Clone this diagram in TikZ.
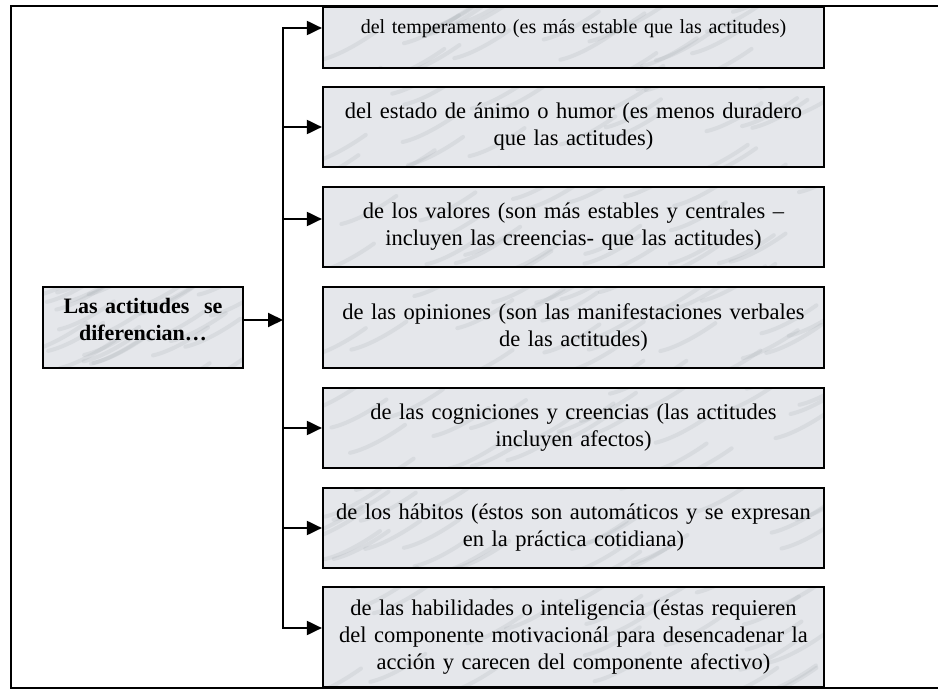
\documentclass[tikz,border=0pt]{standalone}
\usepackage{fontspec}
\setmainfont{Liberation Serif}
\usetikzlibrary{arrows.meta,calc}

\definecolor{marmol}{RGB}{229,231,235}
\definecolor{veta}{RGB}{160,165,172}

\tikzset{
  % relleno tipo marmol: fondo claro con vetas diagonales
  marmolado/.style={fill=marmol, path picture={
      \foreach \k in {1,...,26}{
        \pgfmathsetmacro{\px}{rnd}
        \pgfmathsetmacro{\py}{rnd}
        \draw[veta, opacity=0.18, line width=4pt, line cap=round]
          ($(path picture bounding box.north west)!\px!(path picture bounding box.north east)+(-20,\py*110)$)
          .. controls +(18,-4) and +(-14,10) .. +(55,-28);
      }}},
  caja/.style={draw=black, line width=2.2pt, marmolado, minimum width=501pt,
    text width=480pt, align=center, inner sep=0pt,
    font=\fontsize{22.5}{27}\selectfont},
  linea/.style={line width=2pt},
  flecha/.style={line width=2pt, -{Triangle[length=15pt,width=14pt]}}
}

\begin{document}
\begin{tikzpicture}[x=1pt,y=-1pt]
  \pgfmathsetseed{11}
  \useasboundingbox (0,0) rectangle (938,690);

  % Marco exterior
  \draw[line width=1.6pt] (11,6) rectangle (941,688);

  % Caja de la izquierda
  \node[caja, minimum width=200pt, text width=190pt, minimum height=81pt,
    text depth=44pt, font=\fontsize{22}{27}\selectfont\bfseries]
    (actitudes) at (143,327.5) {Las actitudes~ se\\ diferencian…};

  % Cajas de la derecha
  \node[caja, minimum height=61pt, text depth=21pt, font=\fontsize{20}{24}\selectfont]
    (temperamento) at (573.5,37.5) {del temperamento (es más estable que las actitudes)};
  \node[caja, minimum height=80pt] (animo) at (573.5,127)
    {del estado de ánimo o humor (es menos duradero\\ que las actitudes)};
  \node[caja, minimum height=80pt] (valores) at (573.5,227)
    {de los valores (son más estables y centrales –\\ incluyen las creencias- que las actitudes)};
  \node[caja, minimum height=81pt] (opiniones) at (573.5,327.5)
    {de las opiniones (son las manifestaciones verbales\\ de las actitudes)};
  \node[caja, minimum height=80pt] (cogniciones) at (573.5,428)
    {de las cogniciones y creencias (las actitudes\\ incluyen afectos)};
  \node[caja, minimum height=80pt] (habitos) at (573.5,528)
    {de los hábitos (éstos son automáticos y se expresan\\ en la práctica cotidiana)};
  \node[caja, minimum height=100pt] (habilidades) at (573.5,637)
    {de las habilidades o inteligencia (éstas requieren\\ del componente motivacionál para desencadenar la\\ acción y carecen del componente afectivo)};

  % Tronco y flechas
  \coordinate (tronco) at (283,0);
  \coordinate (p0) at ([yshift=7.5pt]actitudes.east);
  \coordinate (p1) at ([yshift=9.5pt]temperamento.west);
  \coordinate (p3) at ([yshift=8pt]valores.west);
  \coordinate (p7) at ([yshift=9pt]habilidades.west);

  \draw[flecha] (p0) -- (p0 -| tronco);
  \draw[flecha] (p0 -| tronco) |- (p1);
  \draw[flecha] (p0 -| tronco) |- (p7);
  \draw[flecha] (tronco |- animo.west) -- (animo.west);
  \draw[flecha] (p3 -| tronco) -- (p3);
  \draw[flecha] (tronco |- cogniciones.west) -- (cogniciones.west);
  \draw[flecha] (tronco |- habitos.west) -- (habitos.west);
\end{tikzpicture}
\end{document}
